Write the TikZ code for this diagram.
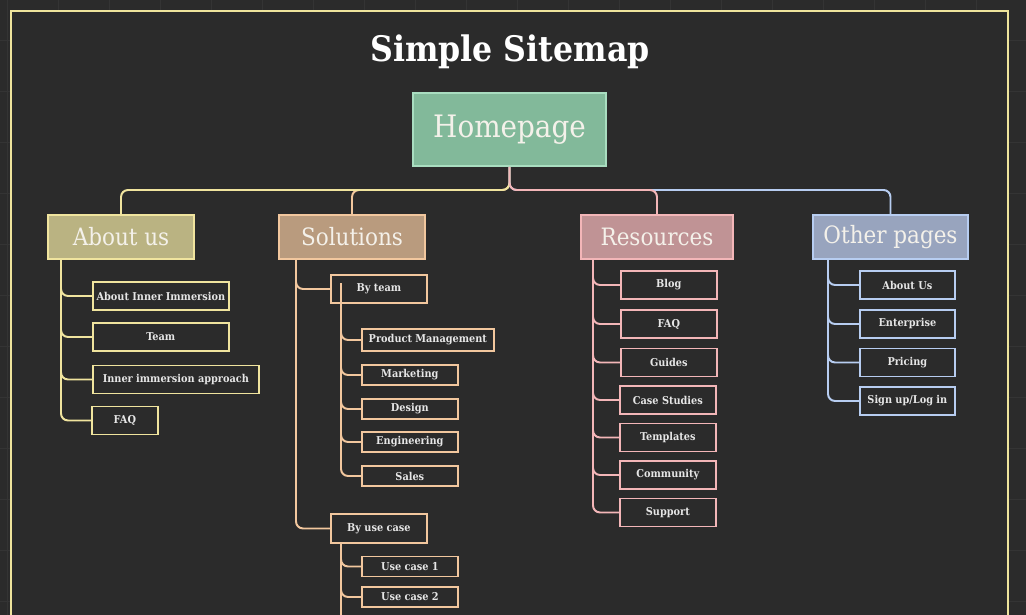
\documentclass[tikz,border=0pt]{standalone}
\usepackage{fontspec}
\setmainfont{DejaVu Serif Condensed}
\usetikzlibrary{positioning,calc}

\definecolor{bgdark}{HTML}{2B2B2B}
\definecolor{gridline}{HTML}{343434}
\definecolor{frameyel}{HTML}{EEE49C}
\definecolor{homefill}{HTML}{82B99A}
\definecolor{homeline}{HTML}{A9DDC0}
\definecolor{aboutfill}{HTML}{BAB382}
\definecolor{aboutline}{HTML}{F0E49E}
\definecolor{solfill}{HTML}{B99B7E}
\definecolor{solline}{HTML}{F2C79E}
\definecolor{resfill}{HTML}{C09395}
\definecolor{resline}{HTML}{F3B6B8}
\definecolor{othfill}{HTML}{98A4BE}
\definecolor{othline}{HTML}{B7CDF1}
\definecolor{textwhite}{HTML}{F4F1EA}
\definecolor{textgrey}{HTML}{E6E6E6}

\begin{document}
\begin{tikzpicture}[x=0.025cm, y=-0.025cm,
        title/.style={text=white, font=\bfseries\fontsize{25}{30}\selectfont},
        mainpage/.style={draw=homeline, fill=homefill, line width=1.4pt, minimum width=4.825cm, minimum height=1.825cm, inner sep=0pt, text=textwhite, font=\fontsize{22}{26}\selectfont},
        section/.style={line width=1.4pt, minimum height=1.1cm, inner sep=0pt, text=textwhite, font=\fontsize{17}{20}\selectfont},
        subpage/.style={line width=1.2pt, fill=bgdark, minimum height=0.7cm, inner sep=0pt, anchor=west, text=textgrey, font=\bfseries\fontsize{7.7}{9.2}\selectfont},
        link/.style={line width=1.4pt, rounded corners=5pt}]

        % background, grid and frame
        \fill[bgdark] (0,0) rectangle (1026,615);
        \clip (0,0) rectangle (1026,615);
        \foreach \gx in {7,58,...,1026} \draw[gridline, line width=0.5pt] (\gx,0) -- (\gx,615);
        \foreach \gy in {40,91,...,615} \draw[gridline, line width=0.5pt] (0,\gy) -- (1026,\gy);
        \draw[frameyel, line width=1.4pt, fill=bgdark] (11,640) -- (11,11) -- (1008,11) -- (1008,640);

        \node[title] (title) at (510,52) {Simple Sitemap};
        \node[mainpage] (home) at (509.5,129.5) {Homepage};

        % top level sections
        \node[section, draw=aboutline, fill=aboutfill, minimum width=3.65cm] (about) at (121,237) {About us};
        \node[section, draw=solline, fill=solfill, minimum width=3.65cm] (solutions) at (352,237) {Solutions};
        \node[section, draw=resline, fill=resfill, minimum width=3.8cm] (resources) at (657,237) {Resources};
        \node[section, draw=othline, fill=othfill, minimum width=3.875cm] (other) at (890.5,237) {Other pages};

        % about us pages
        \node[subpage, draw=aboutline, minimum width=3.4cm] (aii) at (92,296) {About Inner Immersion};
        \node[subpage, draw=aboutline, minimum width=3.4cm] (team) at (92,337) {Team};
        \node[subpage, draw=aboutline, minimum width=4.15cm] (approach) at (92,379.5) {Inner immersion approach};
        \node[subpage, draw=aboutline, minimum width=1.65cm] (afaq) at (91,420.5) {FAQ};

        % solutions pages
        \node[subpage, draw=solline, minimum width=2.4cm] (byteam) at (330,289) {By team};
        \node[subpage, draw=solline, minimum width=3.3cm, minimum height=0.55cm] (pm) at (361,340) {Product Management};
        \node[subpage, draw=solline, minimum width=2.4cm, minimum height=0.5cm] (marketing) at (361,375) {Marketing};
        \node[subpage, draw=solline, minimum width=2.4cm, minimum height=0.5cm] (design) at (361,409) {Design};
        \node[subpage, draw=solline, minimum width=2.4cm, minimum height=0.5cm] (engineering) at (361,442) {Engineering};
        \node[subpage, draw=solline, minimum width=2.4cm, minimum height=0.5cm] (sales) at (361,476) {Sales};
        \node[subpage, draw=solline, minimum width=2.4cm, minimum height=0.72cm] (byuse) at (330,528.5) {By use case};
        \node[subpage, draw=solline, minimum width=2.4cm, minimum height=0.5cm] (uc1) at (361,566.5) {Use case 1};
        \node[subpage, draw=solline, minimum width=2.4cm, minimum height=0.5cm] (uc2) at (361,597) {Use case 2};

        % resources pages
        \node[subpage, draw=resline, minimum width=2.4cm] (blog) at (620,285) {Blog};
        \node[subpage, draw=resline, minimum width=2.4cm] (rfaq) at (620,324) {FAQ};
        \node[subpage, draw=resline, minimum width=2.4cm] (guides) at (620,362.5) {Guides};
        \node[subpage, draw=resline, minimum width=2.4cm] (cases) at (619,400) {Case Studies};
        \node[subpage, draw=resline, minimum width=2.4cm] (templates) at (619,437.5) {Templates};
        \node[subpage, draw=resline, minimum width=2.4cm] (community) at (619,475) {Community};
        \node[subpage, draw=resline, minimum width=2.4cm] (support) at (619,512.5) {Support};

        % other pages
        \node[subpage, draw=othline, minimum width=2.375cm] (oabout) at (859,285) {About Us};
        \node[subpage, draw=othline, minimum width=2.375cm] (enterprise) at (859,324) {Enterprise};
        \node[subpage, draw=othline, minimum width=2.375cm] (pricing) at (859,362.5) {Pricing};
        \node[subpage, draw=othline, minimum width=2.375cm] (signup) at (859,401) {Sign up/Log in};

        % homepage to sections
        \coordinate (hub) at (509.5,190);
        \draw[link, solline] (home.south) -- (hub) -| (solutions.north);
        \draw[link, aboutline] (home.south) -- (hub) -| (about.north);
        \draw[link, othline] (home.south) -- (hub) -| (other.north);
        \draw[link, resline] (home.south) -- (hub) -| (resources.north);

        % trunks
        \coordinate (aboutT) at ($(about.south west)+(14,0)$);
        \coordinate (solT) at ($(solutions.south west)+(18,0)$);
        \coordinate (teamT) at ($(byteam.north west)+(11,9)$);
        \coordinate (useT) at ($(byuse.south west)+(11,0)$);
        \coordinate (useEnd) at (341,630);
        \coordinate (resT) at ($(resources.south west)+(13,0)$);
        \coordinate (othT) at ($(other.south west)+(16,0)$);

        \draw[link, aboutline] (aboutT) |- (aii.west);
        \draw[link, aboutline] (aboutT) |- (team.west);
        \draw[link, aboutline] (aboutT) |- (approach.west);
        \draw[link, aboutline] (aboutT) |- (afaq.west);

        \draw[link, solline] (solT) |- (byteam.west);
        \draw[link, solline] (solT) |- (byuse.west);
        \draw[link, solline] (teamT) |- (pm.west);
        \draw[link, solline] (teamT) |- (marketing.west);
        \draw[link, solline] (teamT) |- (design.west);
        \draw[link, solline] (teamT) |- (engineering.west);
        \draw[link, solline] (teamT) |- (sales.west);
        \draw[link, solline] (useT) |- (uc1.west);
        \draw[link, solline] (useT) |- (uc2.west);
        \draw[link, solline] (useT) -- (useEnd);

        \draw[link, resline] (resT) |- (blog.west);
        \draw[link, resline] (resT) |- (rfaq.west);
        \draw[link, resline] (resT) |- (guides.west);
        \draw[link, resline] (resT) |- (cases.west);
        \draw[link, resline] (resT) |- (templates.west);
        \draw[link, resline] (resT) |- (community.west);
        \draw[link, resline] (resT) |- (support.west);

        \draw[link, othline] (othT) |- (oabout.west);
        \draw[link, othline] (othT) |- (enterprise.west);
        \draw[link, othline] (othT) |- (pricing.west);
        \draw[link, othline] (othT) |- (signup.west);
    \end{tikzpicture}
\end{document}
